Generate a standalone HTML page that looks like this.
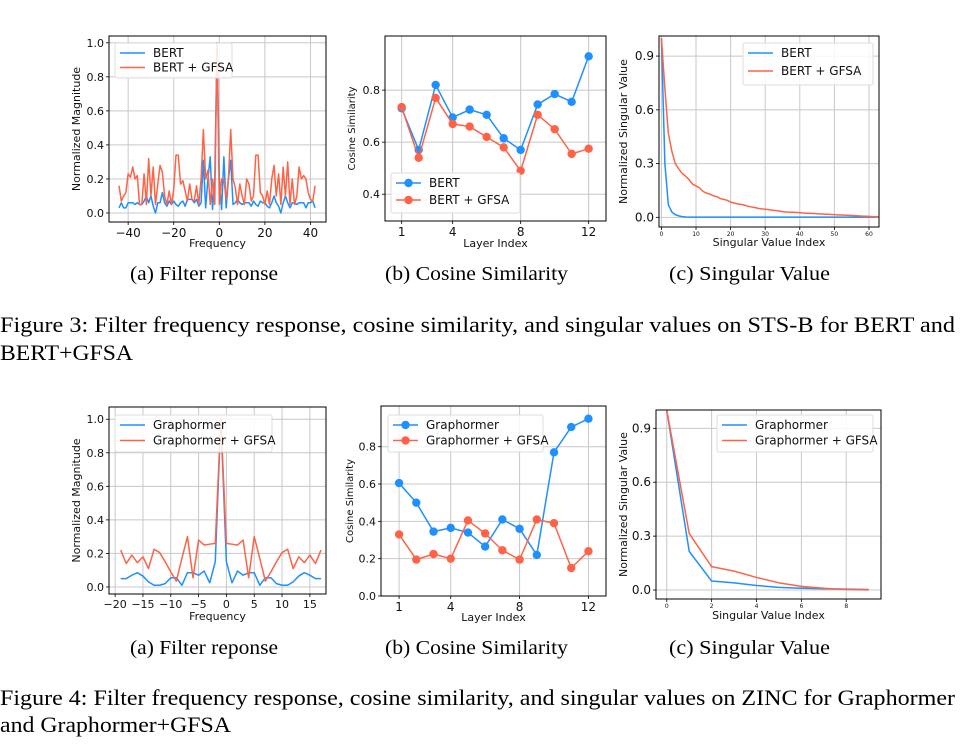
<!DOCTYPE html>
<html><head><meta charset="utf-8"><style>
body{margin:0;background:#fff;}
svg{display:block;}
.tk{font-family:"DejaVu Sans","Liberation Sans",sans-serif;fill:#111;}
.cap{font-family:"Liberation Serif",serif;fill:#000;}
</style></head><body>
<svg id="fig" width="969" height="747" viewBox="0 0 969 747" xmlns="http://www.w3.org/2000/svg">
<rect width="969" height="747" fill="#fff"/>
<text class="cap" x="130" y="280" font-size="20" textLength="148" lengthAdjust="spacingAndGlyphs">(a)  Filter reponse</text>
<text class="cap" x="385" y="280" font-size="20" textLength="183" lengthAdjust="spacingAndGlyphs">(b)  Cosine Similarity</text>
<text class="cap" x="669" y="280" font-size="20" textLength="161" lengthAdjust="spacingAndGlyphs">(c)  Singular Value</text>
<text class="cap" x="0" y="332" font-size="22" textLength="955" lengthAdjust="spacingAndGlyphs">Figure 3: Filter frequency response, cosine similarity, and singular values on STS-B for BERT and</text>
<text class="cap" x="0" y="360" font-size="22" textLength="133" lengthAdjust="spacingAndGlyphs">BERT+GFSA</text>
<text class="cap" x="130" y="654" font-size="20" textLength="148" lengthAdjust="spacingAndGlyphs">(a)  Filter reponse</text>
<text class="cap" x="385" y="654" font-size="20" textLength="183" lengthAdjust="spacingAndGlyphs">(b)  Cosine Similarity</text>
<text class="cap" x="669" y="654" font-size="20" textLength="161" lengthAdjust="spacingAndGlyphs">(c)  Singular Value</text>
<text class="cap" x="0" y="705" font-size="22" textLength="955" lengthAdjust="spacingAndGlyphs">Figure 4: Filter frequency response, cosine similarity, and singular values on ZINC for Graphormer</text>
<text class="cap" x="0" y="732" font-size="22" textLength="231" lengthAdjust="spacingAndGlyphs">and Graphormer+GFSA</text>
</svg>
<script>
const bertFreqStart = -44;
const bertFreqRed = [0.16,0.07,0.1,0.12,0.23,0.21,0.27,0.2,0.22,0.05,0.05,0.23,0.05,0.32,0.1,0.27,0.05,0.17,0.28,0.24,0.1,0.05,0.13,0.05,0.14,0.34,0.34,0.17,0.19,0.13,0.07,0.17,0.08,0.07,0.16,0.05,0.2,0.49,0.2,0.25,0.05,0.2,0.05,1.0,0.05,0.2,0.2,0.08,0.2,0.49,0.2,0.15,0.05,0.17,0.1,0.05,0.2,0.17,0.07,0.1,0.34,0.34,0.12,0.1,0.05,0.13,0.05,0.2,0.28,0.1,0.23,0.05,0.27,0.1,0.3,0.05,0.2,0.05,0.1,0.27,0.2,0.22,0.2,0.12,0.08,0.07,0.16];
const bertFreqBlue = [0.03,0.06,0.03,0.03,0.06,0.06,0.06,0.05,0.06,0.05,0.05,0.07,0.1,0.06,0.1,0.04,0.0,0.06,0.06,0.12,0.06,0.04,0.07,0.05,0.07,0.05,0.04,0.06,0.07,0.04,0.08,0.08,0.08,0.06,0.08,0.04,0.06,0.31,0.03,0.2,0.33,0.02,0.2,1.0,0.2,0.02,0.33,0.03,0.2,0.31,0.05,0.06,0.08,0.06,0.05,0.06,0.06,0.06,0.04,0.07,0.05,0.04,0.07,0.06,0.06,0.04,0.03,0.06,0.1,0.06,0.04,0.0,0.06,0.1,0.06,0.03,0.06,0.06,0.05,0.06,0.06,0.06,0.03,0.06,0.06,0.07,0.03];
const layers = [1,2,3,4,5,6,7,8,9,10,11,12];
const bertCos = [0.73,0.57,0.82,0.695,0.725,0.705,0.615,0.57,0.745,0.785,0.755,0.93];
const bertGfsaCos = [0.735,0.54,0.77,0.67,0.66,0.62,0.58,0.49,0.705,0.65,0.555,0.575];
const bertSvBlue = [1.0,0.3,0.07,0.03,0.015,0.008,0.004,0.002,0.001,0.001,0.001,0.001,0.001,0.001,0.001,0.001,0.001,0.001,0.001,0.001,0.001,0.001,0.001,0.001,0.001,0.001,0.001,0.001,0.001,0.001,0.001,0.001,0.001,0.001,0.001,0.001,0.001,0.001,0.001,0.001,0.001,0.001,0.001,0.001,0.001,0.001,0.001,0.001,0.001,0.001,0.001,0.001,0.001,0.001,0.001,0.001,0.001,0.001,0.001,0.001,0.001,0.001,0.001,0.001];
const bertSvRed = [1.0,0.72,0.47,0.37,0.3,0.27,0.245,0.23,0.21,0.185,0.175,0.165,0.145,0.135,0.13,0.12,0.115,0.105,0.1,0.095,0.085,0.08,0.075,0.072,0.068,0.062,0.058,0.055,0.05,0.047,0.045,0.043,0.04,0.038,0.035,0.032,0.03,0.029,0.028,0.027,0.026,0.024,0.023,0.022,0.021,0.02,0.019,0.018,0.017,0.016,0.015,0.014,0.013,0.012,0.011,0.01,0.009,0.008,0.007,0.006,0.005,0.004,0.003,0.002];
const grFreqStart = -19;
const grFreqRed = [0.22,0.14,0.19,0.145,0.18,0.11,0.225,0.205,0.15,0.09,0.035,0.17,0.3,0.055,0.28,0.25,0.255,0.26,1.0,0.26,0.255,0.25,0.28,0.055,0.3,0.17,0.035,0.09,0.15,0.205,0.225,0.11,0.18,0.145,0.19,0.14,0.22];
const grFreqBlue = [0.05,0.05,0.07,0.085,0.065,0.03,0.01,0.01,0.02,0.055,0.055,0.01,0.085,0.085,0.07,0.095,0.025,0.15,1.0,0.15,0.025,0.095,0.07,0.085,0.085,0.01,0.055,0.055,0.02,0.01,0.01,0.03,0.065,0.085,0.07,0.05,0.05];
const grCos = [0.605,0.5,0.345,0.365,0.34,0.265,0.41,0.36,0.22,0.77,0.905,0.95];
const grGfsaCos = [0.33,0.195,0.225,0.2,0.405,0.335,0.245,0.195,0.41,0.39,0.15,0.24];
const grSvBlue = [1.0,0.215,0.05,0.04,0.025,0.015,0.01,0.007,0.005,0.003];
const grSvRed = [1.0,0.315,0.13,0.105,0.07,0.04,0.02,0.01,0.003,0.001];

const NS='http://www.w3.org/2000/svg';
const svg=document.getElementById('fig');
const BLUE='#1E90FF', RED='#FF6347';
function mk(tag,attrs,parent){const e=document.createElementNS(NS,tag);for(const k in attrs)e.setAttribute(k,attrs[k]);(parent||svg).appendChild(e);return e;}
function range(start,n){const a=[];for(let i=0;i<n;i++)a.push(start+i);return a;}

function panel(c){
  const g=mk('g',{});
  
  
  const sx=v=>c.box.l+(v-c.xlim[0])/(c.xlim[1]-c.xlim[0])*(c.box.r-c.box.l);
  const sy=v=>c.box.b-(v-c.ylim[0])/(c.ylim[1]-c.ylim[0])*(c.box.b-c.box.t);
  c.xticks.forEach((t,i)=>{
    const x=sx(t);
    const gl=mk('line',{x1:x,x2:x,y1:c.box.t,y2:c.box.b,stroke:'#c8c8c8','stroke-width':1},g);
    
    
    mk('line',{x1:x,x2:x,y1:c.box.b,y2:c.box.b+3,stroke:'#000','stroke-width':0.8},g);
    const tx=mk('text',{x:x,y:c.box.b+3+c.xfs,'font-size':c.xfs,'text-anchor':'middle',class:'tk'},g);
    tx.textContent=c.xlabels[i];
    
    
  });
  c.yticks.forEach((t,i)=>{
    const y=sy(t);
    const gl=mk('line',{x1:c.box.l,x2:c.box.r,y1:y,y2:y,stroke:'#c8c8c8','stroke-width':1},g);
    
    
    mk('line',{x1:c.box.l-3,x2:c.box.l,y1:y,y2:y,stroke:'#000','stroke-width':0.8},g);
    const ty=mk('text',{x:c.box.l-5,y:y+4,'font-size':c.yfs,'text-anchor':'end',class:'tk'},g);
    ty.textContent=c.ylabels[i];
    
    
  });
  c.series.forEach(s=>{
    const pts=s.y.map((v,i)=>sx(s.x[i]).toFixed(2)+','+sy(v).toFixed(2)).join(' ');
    const pl=mk('polyline',{points:pts,fill:'none',stroke:s.color,'stroke-width':1.5,'stroke-linejoin':'round'},g);
    
    
    if(s.marker){s.y.forEach((v,i)=>{
      const ci=mk('circle',{cx:sx(s.x[i]),cy:sy(v),r:4.2,fill:s.color},g);
      
      
    });}
  });
  const fr=mk('rect',{x:c.box.l,y:c.box.t,width:c.box.r-c.box.l,height:c.box.b-c.box.t,fill:'none',stroke:'#000','stroke-width':1},g);
  
  
  const xl=mk('text',{x:(c.box.l+c.box.r)/2,y:c.xly,'font-size':11,'text-anchor':'middle',class:'tk'},g);
  xl.textContent=c.xtitle;
  
  
  const ym=(c.box.t+c.box.b)/2;
  const yl=mk('text',{x:c.ylx,y:ym,'font-size':c.ytfs||11,'text-anchor':'middle',class:'tk',transform:`rotate(-90 ${c.ylx} ${ym})`},g);
  yl.textContent=c.ytitle;
  
  
  const L=c.legend;
  const lg=mk('g',{},g);
  
  
  mk('rect',{x:L.x,y:L.y,width:L.w,height:L.h,rx:2,fill:'rgba(255,255,255,0.85)',stroke:'#ddd','stroke-width':1},lg);
  c.series.forEach((s,i)=>{
    const y=L.y+10+i*(L.h-10)/2+ (i?2:0);
    mk('line',{x1:L.x+5,x2:L.x+30,y1:y,y2:y,stroke:s.color,'stroke-width':1.6},lg);
    if(s.marker)mk('circle',{cx:L.x+17.5,cy:y,r:4.2,fill:s.color},lg);
    const t=mk('text',{x:L.x+38,y:y+4,'font-size':12,class:'tk'},lg);
    t.textContent=s.label;
    
    
  });
}

panel({name:'bert-filter-response',box:{l:109,t:36,r:326,b:222},xlim:[-48.4,46.8],ylim:[-0.053,1.04],
  xticks:[-40,-20,0,20,40],xlabels:['−40','−20','0','20','40'],yticks:[0,0.2,0.4,0.6,0.8,1.0],ylabels:['0.0','0.2','0.4','0.6','0.8','1.0'],
  xfs:12,yfs:11,xtitle:'Frequency',xly:247,ytitle:'Normalized Magnitude',ylx:80,
  series:[{name:'bert',label:'BERT',color:BLUE,x:range(bertFreqStart,bertFreqBlue.length),y:bertFreqBlue},
          {name:'bert-gfsa',label:'BERT + GFSA',color:RED,x:range(bertFreqStart,bertFreqRed.length),y:bertFreqRed}],
  legend:{x:115,y:43,w:117,h:35}});
panel({name:'bert-cosine-similarity',box:{l:385,t:36,r:606,b:221},xlim:[0.02,13.02],ylim:[0.297,1.008],
  xticks:[1,4,8,12],xlabels:['1','4','8','12'],yticks:[0.4,0.6,0.8],ylabels:['0.4','0.6','0.8'],
  xfs:12,yfs:11,xtitle:'Layer Index',xly:247,ytitle:'Cosine Similarity',ylx:355,ytfs:10,
  series:[{name:'bert',label:'BERT',color:BLUE,marker:true,x:layers,y:bertCos},
          {name:'bert-gfsa',label:'BERT + GFSA',color:RED,marker:true,x:layers,y:bertGfsaCos}],
  legend:{x:391,y:173,w:129,h:40}});
panel({name:'bert-singular-value',box:{l:659,t:36,r:879,b:227},xlim:[-0.7,62.9],ylim:[-0.054,1.012],
  xticks:[0,10,20,30,40,50,60],xlabels:['0','10','20','30','40','50','60'],yticks:[0,0.3,0.6,0.9],ylabels:['0.0','0.3','0.6','0.9'],
  xfs:6,yfs:12,xtitle:'Singular Value Index',xly:246,ytitle:'Normalized Singular Value',ylx:627,
  series:[{name:'bert',label:'BERT',color:BLUE,x:range(0,bertSvBlue.length),y:bertSvBlue},
          {name:'bert-gfsa',label:'BERT + GFSA',color:RED,x:range(0,bertSvRed.length),y:bertSvRed}],
  legend:{x:743,y:43,w:130,h:42}});
panel({name:'graphormer-filter-response',box:{l:109,t:407,r:326,b:594},xlim:[-21.1,17.9],ylim:[-0.042,1.073],
  xticks:[-20,-15,-10,-5,0,5,10,15],xlabels:['−20','−15','−10','−5','0','5','10','15'],yticks:[0,0.2,0.4,0.6,0.8,1.0],ylabels:['0.0','0.2','0.4','0.6','0.8','1.0'],
  xfs:11,yfs:11,xtitle:'Frequency',xly:620,ytitle:'Normalized Magnitude',ylx:80,
  series:[{name:'graphormer',label:'Graphormer',color:BLUE,x:range(grFreqStart,grFreqBlue.length),y:grFreqBlue},
          {name:'graphormer-gfsa',label:'Graphormer + GFSA',color:RED,x:range(grFreqStart,grFreqRed.length),y:grFreqRed}],
  legend:{x:115,y:415,w:157,h:37}});
panel({name:'graphormer-cosine-similarity',box:{l:381,t:406,r:606,b:596},xlim:[-0.05,13.02],ylim:[0,1.018],
  xticks:[1,4,8,12],xlabels:['1','4','8','12'],yticks:[0,0.2,0.4,0.6,0.8],ylabels:['0.0','0.2','0.4','0.6','0.8'],
  xfs:12,yfs:11,xtitle:'Layer Index',xly:621,ytitle:'Cosine Similarity',ylx:353,ytfs:10,
  series:[{name:'graphormer',label:'Graphormer',color:BLUE,marker:true,x:layers,y:grCos},
          {name:'graphormer-gfsa',label:'Graphormer + GFSA',color:RED,marker:true,x:layers,y:grGfsaCos}],
  legend:{x:388,y:415,w:155,h:37}});
panel({name:'graphormer-singular-value',box:{l:656,t:410,r:881,b:599},xlim:[-0.48,9.55],ylim:[-0.05,1.002],
  xticks:[0,2,4,6,8],xlabels:['0','2','4','6','8'],yticks:[0,0.3,0.6,0.9],ylabels:['0.0','0.3','0.6','0.9'],
  xfs:6,yfs:12,xtitle:'Singular Value Index',xly:619,ytitle:'Normalized Singular Value',ylx:627,
  series:[{name:'graphormer',label:'Graphormer',color:BLUE,x:range(0,grSvBlue.length),y:grSvBlue},
          {name:'graphormer-gfsa',label:'Graphormer + GFSA',color:RED,x:range(0,grSvRed.length),y:grSvRed}],
  legend:{x:717,y:415,w:156,h:37}});
</script>
</body></html>
